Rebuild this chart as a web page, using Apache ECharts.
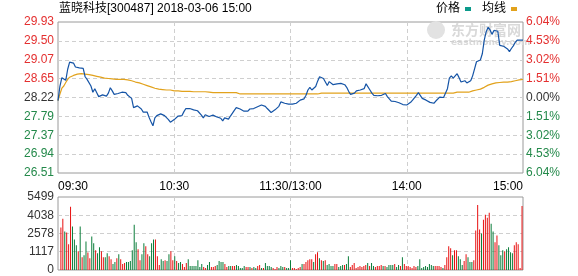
<!DOCTYPE html>
<html><head><meta charset="utf-8">
<script src="https://cdn.jsdelivr.net/npm/echarts@6/dist/echarts.min.js"></script>
<style>html,body{margin:0;padding:0;background:#fff}#c{width:578px;height:276px}</style>
</head><body><div id="c"></div>
<script>
const titleText = '蓝晓科技[300487] 2018-03-06 15:00';
const legendNames = ['价格', '均线'];
const timeTickLabels = ['09:30', '10:30', '11:30/13:00', '14:00', '15:00'];
const priceTickLabels = ['26.51', '26.94', '27.37', '27.79', '28.22', '28.65', '29.07', '29.50', '29.93'];
const pctTickLabels = ['6.04%', '4.53%', '3.02%', '1.51%', '0.00%', '1.51%', '3.02%', '4.53%', '6.04%'];
const volTickLabels = ['0', '1117', '2578', '4038', '5499'];
const priceMin = 26.51, priceMax = 29.93, preClose = 28.22, volMax = 5499;

const prices = [
28.15,28.48,28.67,28.63,28.61,28.86,29.02,29.00,29.00,28.91,
28.93,28.89,28.91,28.88,28.69,28.63,28.67,28.48,28.34,28.42,
28.33,28.24,28.24,28.28,28.26,28.25,28.32,28.44,28.37,28.29,
28.29,28.31,28.33,28.34,28.35,28.33,28.27,28.24,28.20,27.99,
27.99,28.03,28.06,27.96,27.89,27.87,27.89,27.77,27.67,27.58,
27.76,27.81,27.84,27.85,27.81,27.81,27.78,27.72,27.66,27.70,
27.72,27.74,27.80,27.79,27.81,27.90,27.97,28.00,27.97,27.96,
27.94,27.93,27.92,27.89,27.82,27.76,27.83,27.84,27.79,27.78,
27.82,27.82,27.78,27.76,27.75,27.69,27.76,27.79,27.73,27.80,
27.84,27.93,27.99,27.99,27.96,27.96,27.91,27.87,27.91,27.96,
27.95,27.97,27.98,28.01,28.05,28.05,28.02,28.02,27.97,27.93,
27.88,27.91,27.94,27.98,28.02,28.12,28.13,28.09,28.09,28.07,
28.08,28.07,28.08,28.09,28.11,28.16,28.17,28.19,28.27,28.39,
28.45,28.39,28.35,28.47,28.59,28.69,28.66,28.65,28.57,28.49,
28.58,28.57,28.51,28.50,28.53,28.52,28.54,28.52,28.51,28.45,
28.36,28.29,28.29,28.32,28.37,28.39,28.39,28.39,28.42,28.53,
28.54,28.39,28.32,28.27,28.25,28.26,28.25,28.27,28.30,28.31,
28.24,28.19,28.14,28.11,28.13,28.09,28.10,28.06,28.06,28.02,
28.05,28.08,28.11,28.16,28.20,28.27,28.33,28.30,28.20,28.18,
28.16,28.15,28.11,28.07,28.09,28.14,28.17,28.23,28.24,28.22,
28.25,28.42,28.66,28.71,28.66,28.71,28.76,28.67,28.57,28.61,
28.60,28.55,28.57,28.60,28.71,28.87,29.03,29.03,29.07,29.21,
29.52,29.71,29.81,29.75,29.65,29.74,29.73,29.72,29.40,29.44,
29.38,29.38,29.32,29.26,29.33,29.39,29.47,29.52,29.52,29.52,
29.52
];

const avgPrices = [
28.15,28.30,28.43,28.48,28.56,28.63,28.68,28.69,28.72,28.74,
28.75,28.75,28.76,28.76,28.75,28.75,28.74,28.73,28.72,28.71,
28.70,28.69,28.68,28.67,28.66,28.66,28.65,28.65,28.64,28.63,
28.63,28.63,28.63,28.63,28.63,28.62,28.62,28.61,28.60,28.58,
28.57,28.57,28.55,28.54,28.52,28.51,28.49,28.48,28.46,28.45,
28.43,28.42,28.41,28.40,28.40,28.40,28.39,28.39,28.39,28.38,
28.37,28.37,28.37,28.37,28.36,28.36,28.36,28.36,28.36,28.36,
28.35,28.35,28.35,28.35,28.35,28.35,28.35,28.35,28.34,28.34,
28.33,28.33,28.33,28.33,28.33,28.33,28.33,28.33,28.33,28.33,
28.33,28.33,28.33,28.30,28.30,28.30,28.30,28.30,28.30,28.30,
28.30,28.30,28.30,28.30,28.30,28.30,28.30,28.30,28.30,28.30,
28.30,28.30,28.30,28.30,28.30,28.30,28.30,28.30,28.30,28.30,
28.30,28.30,28.30,28.30,28.30,28.30,28.30,28.30,28.30,28.30,
28.30,28.30,28.30,28.30,28.30,28.32,28.32,28.32,28.32,28.32,
28.32,28.32,28.32,28.32,28.32,28.32,28.32,28.32,28.32,28.32,
28.32,28.32,28.32,28.32,28.32,28.32,28.32,28.32,28.32,28.32,
28.32,28.32,28.32,28.32,28.32,28.32,28.32,28.32,28.32,28.32,
28.32,28.32,28.32,28.32,28.32,28.32,28.32,28.32,28.32,28.32,
28.32,28.32,28.32,28.32,28.32,28.32,28.32,28.32,28.32,28.32,
28.32,28.32,28.32,28.32,28.32,28.32,28.32,28.32,28.32,28.32,
28.32,28.32,28.32,28.32,28.32,28.32,28.34,28.34,28.34,28.34,
28.34,28.34,28.34,28.36,28.37,28.38,28.39,28.40,28.41,28.43,
28.45,28.48,28.50,28.52,28.53,28.54,28.55,28.55,28.56,28.56,
28.57,28.57,28.57,28.58,28.58,28.59,28.60,28.61,28.62,28.62,
28.63
];

const volumes = [
0,
3195,3864,2898,2824,1932,4756,3270,2304,1858,1412,
3270,966,1115,2155,1313,892,2527,2006,1486,1263,
1709,1412,966,966,1263,1040,817,446,594,892,
1189,817,446,520,594,594,669,1486,3418,2081,
1560,743,1189,2006,1783,1189,1040,2006,2304,2304,
1040,372,817,669,743,669,1189,1412,743,1040,
669,520,594,446,223,520,817,297,297,297,
297,743,223,446,223,149,372,594,223,223,
297,372,669,594,594,446,223,297,297,297,
297,372,297,149,149,297,223,223,223,149,
223,
149,297,372,149,149,520,297,297,223,149,
74,223,149,297,223,223,149,
149,743,149,149,74,149,223,446,446,594,
743,817,817,594,1189,1338,892,743,669,743,
372,
446,297,297,446,446,223,297,372,372,446,
1040,223,372,520,149,223,297,223,297,372,
520,297,520,297,223,
297,
297,372,297,297,223,372,372,372,446,223,
372,297,966,446,297,297,223,149,297,223,
297,817,149,223,297,
223,
446,372,297,297,297,297,223,149,372,966,
1783,1635,1115,1486,1486,
1040,
817,372,669,1189,966,594,594,743,2972,4905,
3047,2750,3790,4161,3938,4310,3493,2898,2081,2601,
1858,1115,
1486,
1412,1560,1709,1338,1263,1858,2081,1932,149,4830
];

const volUp = [
1,
1,1,0,1,1,1,0,0,0,1,
0,1,0,0,1,1,0,0,1,0,
0,1,1,0,0,1,1,0,0,1,
0,1,1,1,0,0,0,0,0,0,
1,1,0,0,1,1,0,0,0,1,
1,1,0,0,1,0,0,1,1,0,
1,0,0,1,1,1,0,0,0,0,
0,0,0,0,1,1,0,0,1,1,
1,0,0,0,0,1,1,0,0,1,
1,0,0,0,0,0,1,1,0,1,
0,
0,1,1,0,1,0,0,0,0,1,
1,1,0,0,0,1,0,
0,0,1,1,1,1,1,0,1,1,
1,1,1,0,1,1,0,1,0,1,
0,
0,0,0,1,1,0,0,0,1,0,
0,1,1,1,1,1,1,1,1,1,
0,1,0,0,1,
1,
1,1,0,1,0,0,0,0,1,0,
0,1,0,1,1,1,1,1,1,1,
0,0,0,0,0,
0,
0,0,0,1,1,1,1,0,1,1,
1,1,0,1,1,
0,
0,0,1,1,0,0,0,1,1,1,
1,0,1,1,1,1,0,0,1,1,
0,0,
0,
1,0,0,0,0,1,1,1,1,1
];

// minute categories of the trading session
const times = [];
for (let m = 0; m <= 240; m++) {
  let t = m <= 120 ? 570 + m : 780 + (m - 120);
  const hh = String(Math.floor(t / 60)).padStart(2, '0');
  const mm = String(t % 60).padStart(2, '0');
  times.push(m === 120 ? '11:30/13:00' : hh + ':' + mm);
}

const RED = '#e42f2f', GREEN = '#23894a', DARK = '#333333';
const LINE_BLUE = '#1554a6', AVG_GOLD = '#e2a21c';
const FONT = '"Liberation Sans", Arial, "Noto Sans CJK SC", sans-serif';
const dash = { color: '#cfcfcf', type: [4, 3], width: 1 };

function sideColor(i, mid) { return i > mid ? 'r' : (i < mid ? 'g' : 'k'); }
const rich = {
  r: { color: RED, fontSize: 12, fontFamily: FONT },
  g: { color: GREEN, fontSize: 12, fontFamily: FONT },
  k: { color: DARK, fontSize: 12, fontFamily: FONT }
};

const chart = echarts.init(document.getElementById('c'), null, { renderer: 'canvas' });
chart.setOption({
  animation: false,
  backgroundColor: '#fff',
  title: {
    text: titleText, left: 59, top: 3, padding: 0,
    textStyle: { fontSize: 12, fontWeight: 'normal', color: '#000', fontFamily: FONT }
  },
  legend: {
    data: [
      { name: legendNames[0], icon: 'rect', itemStyle: { color: '#0b9a8b', borderWidth: 0 } },
      { name: legendNames[1], icon: 'rect', itemStyle: { color: AVG_GOLD, borderWidth: 0 } }
    ],
    right: 61, top: 3, padding: 0, align: 'right', icon: 'rect',
    itemWidth: 6, itemHeight: 4, itemGap: 11,
    lineStyle: { width: 0, opacity: 0 },
    textStyle: { fontSize: 12, color: '#000', fontFamily: FONT }
  },
  graphic: [
    { type: 'circle', shape: { cx: 436, cy: 30, r: 9 }, style: { fill: '#e2e2e2' }, z: 0, silent: true },
    { type: 'text', left: 451, top: 23, z: 0, silent: true,
      style: { text: '东方财富网', fill: '#d9d9d9', font: 'bold 14px "Noto Sans CJK SC"' } },
    { type: 'text', left: 451, top: 38, z: 0, silent: true,
      style: { text: 'eastmoney.com', fill: '#dadada', font: 'bold 9px "DejaVu Sans"' } }
  ],
  grid: [
    { left: 58, right: 55, top: 22, height: 151, show: true, borderColor: '#9a9a9a', borderWidth: 1 },
    { left: 58, right: 55, top: 197, height: 74, show: true, borderColor: '#9a9a9a', borderWidth: 1 }
  ],
  xAxis: [
    { type: 'category', gridIndex: 0, data: times, boundaryGap: false, show: false, position: 'top' },
    { type: 'value', gridIndex: 0, min: 0, max: 240, interval: 60, position: 'bottom',
      axisLine: { show: false }, axisTick: { show: false },
      axisLabel: { formatter: v => timeTickLabels[Math.round(v / 60)], margin: 8, color: '#000', fontSize: 12,
        fontFamily: FONT, alignMinLabel: 'left', alignMaxLabel: 'right' },
      splitLine: { show: true, showMinLine: false, showMaxLine: false, lineStyle: dash } },
    { type: 'category', gridIndex: 1, data: times, boundaryGap: true, show: false, position: 'top' },
    { type: 'value', gridIndex: 1, min: 0, max: 240, interval: 60, position: 'bottom',
      axisLine: { show: false }, axisTick: { show: false }, axisLabel: { show: false },
      splitLine: { show: true, showMinLine: false, showMaxLine: false, lineStyle: dash } }
  ],
  yAxis: [
    { type: 'value', gridIndex: 0, min: priceMin, max: priceMax, show: false, position: 'right' },
    { type: 'value', gridIndex: 0, min: 0, max: 8, interval: 1, position: 'left',
      axisLine: { show: false }, axisTick: { show: false },
      axisLabel: { margin: 4, formatter: v => { const i = Math.round(v); return '{' + sideColor(i, 4) + '|' + priceTickLabels[i] + '}'; }, rich },
      splitLine: { show: true, showMinLine: false, showMaxLine: false, lineStyle: dash } },
    { type: 'value', gridIndex: 0, min: 0, max: 8, interval: 1, position: 'right',
      axisLine: { show: false }, axisTick: { show: false },
      axisLabel: { margin: 3, formatter: v => { const i = Math.round(v); return '{' + sideColor(i, 4) + '|' + pctTickLabels[i] + '}'; }, rich },
      splitLine: { show: false } },
    { type: 'value', gridIndex: 1, min: 0, max: volMax, show: false, position: 'right' },
    { type: 'value', gridIndex: 1, min: 0, max: 4, interval: 1, position: 'left',
      axisLine: { show: false }, axisTick: { show: false },
      axisLabel: { margin: 4, formatter: v => volTickLabels[Math.round(v)], color: DARK, fontSize: 12, fontFamily: FONT },
      splitLine: { show: true, showMinLine: false, showMaxLine: false, lineStyle: dash } }
  ],
  series: [
    { name: legendNames[0], type: 'line', xAxisIndex: 0, yAxisIndex: 0, data: prices,
      symbol: 'none', lineStyle: { color: LINE_BLUE, width: 1.2 }, itemStyle: { color: LINE_BLUE }, z: 4, silent: true },
    { name: legendNames[1], type: 'line', xAxisIndex: 0, yAxisIndex: 0, data: avgPrices,
      symbol: 'none', lineStyle: { color: AVG_GOLD, width: 1.2 }, itemStyle: { color: AVG_GOLD }, z: 3, silent: true },
    { name: 'vol', type: 'bar', xAxisIndex: 2, yAxisIndex: 3, barWidth: 1, silent: true,
      data: volumes.map((v, i) => ({ value: v, itemStyle: { color: volUp[i] ? '#e81010' : '#0a7d3a' } })) }
  ]
});
</script></body></html>
